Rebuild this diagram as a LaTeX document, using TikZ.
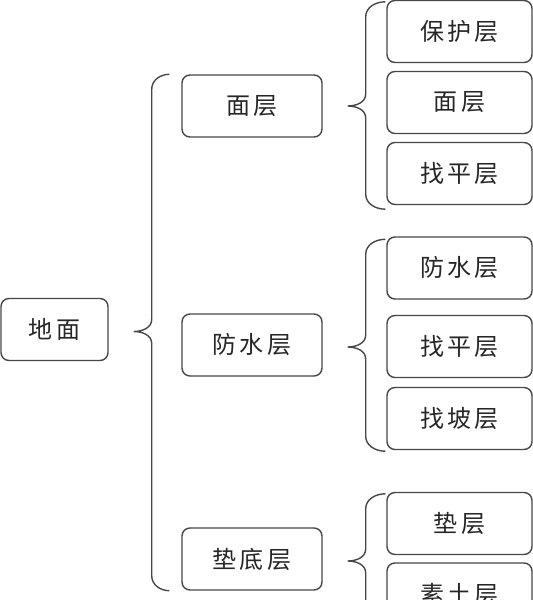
\documentclass[tikz,border=0pt]{standalone}
\usepackage{fontspec}
\newfontfamily\cjk[LetterSpace=14]{Noto Sans CJK SC}
\usetikzlibrary{positioning,calc}
\newcommand{\layerbrace}[3]{%
\draw [brace] (#1) to[out=180,in=90] ($(#2|-#1)+(18,-15)$) -- ($(#2)+(18,12)$)
  to[out=-90,in=0] (#2) to[out=0,in=90] ($(#2)+(18,-12)$) -- ($(#2|-#3)+(18,15)$)
  to[out=-90,in=180] (#3);}

\begin{document}
\begin{tikzpicture}
[x=1pt,y=1pt,
box/.style={draw=black!72,line width=1.4pt,rounded corners=8pt,minimum height=62pt,
  inner sep=0pt,text=black!85,font=\cjk\fontsize{24}{28}\selectfont},
rootbox/.style={box,minimum width=107pt},
midbox/.style={box,minimum width=140pt},
leafbox/.style={box,minimum width=145pt},
brace/.style={draw=black!72,line width=1.4pt}]
%%
\useasboundingbox (0,0) rectangle (533,600);
\clip (0,0) rectangle (533,600);
%%%%%%%%%%%%%%%%%%
% root and middle level
%%%%%%%%%%%%%%%%%%
\node[rootbox] (dm) at (54.5,270.5) {地面};
\node[midbox] (mc) at (252,494) {面层};
\node[midbox] (fs) at (252,255) {防水层};
\node[midbox] (dd) at (252,41) {垫底层};
%%
\coordinate (b0tip) at ($(dm.east)+(25,-2)$);
\coordinate (b0top) at ($(mc.north west)+(-12,0)$);
\coordinate (b0bot) at ($(dd.south west)+(-12,0)$);
\layerbrace{b0top}{b0tip}{b0bot}
%%%%%%%%%%%%%%%%%%
% leaves
%%%%%%%%%%%%%%%%%%
%% group 1
\def \lx {459.5}
\node[leafbox] (mc1) at (\lx,568.5) {保护层};
\node[leafbox] (mc2) at (\lx,497.5) {面层};
\node[leafbox] (mc3) at (\lx,426.5) {找平层};
\coordinate (b1tip) at ($(mc.east)+(25,0)$);
\coordinate (b1top) at ($(mc1.north west)+(-1,-2)$);
\coordinate (b1bot) at ($(mc3.south west)+(-1,-4)$);
\layerbrace{b1top}{b1tip}{b1bot}
%% group 2
\node[leafbox] (fs1) at (\lx,332) {防水层};
\node[leafbox] (fs2) at (\lx,253.5) {找平层};
\node[leafbox] (fs3) at (\lx,181.5) {找坡层};
\coordinate (b2tip) at ($(fs.east)+(25,-2)$);
\coordinate (b2top) at ($(fs1.north west)+(-1,-3)$);
\coordinate (b2bot) at ($(fs3.south west)+(-1,-1)$);
\layerbrace{b2top}{b2tip}{b2bot}
%% group 3
\node[leafbox] (dd1) at (\lx,76.5) {垫层};
\node[leafbox] (dd2) at (\lx,6) {素土层};
\coordinate (b3tip) at ($(dd.east)+(25,-2)$);
\coordinate (b3top) at ($(dd1.north west)+(-1,-2)$);
\coordinate (b3bot) at ($(dd2.south west)+(-1,-2)$);
\layerbrace{b3top}{b3tip}{b3bot}
%%
\end{tikzpicture}
\end{document}
